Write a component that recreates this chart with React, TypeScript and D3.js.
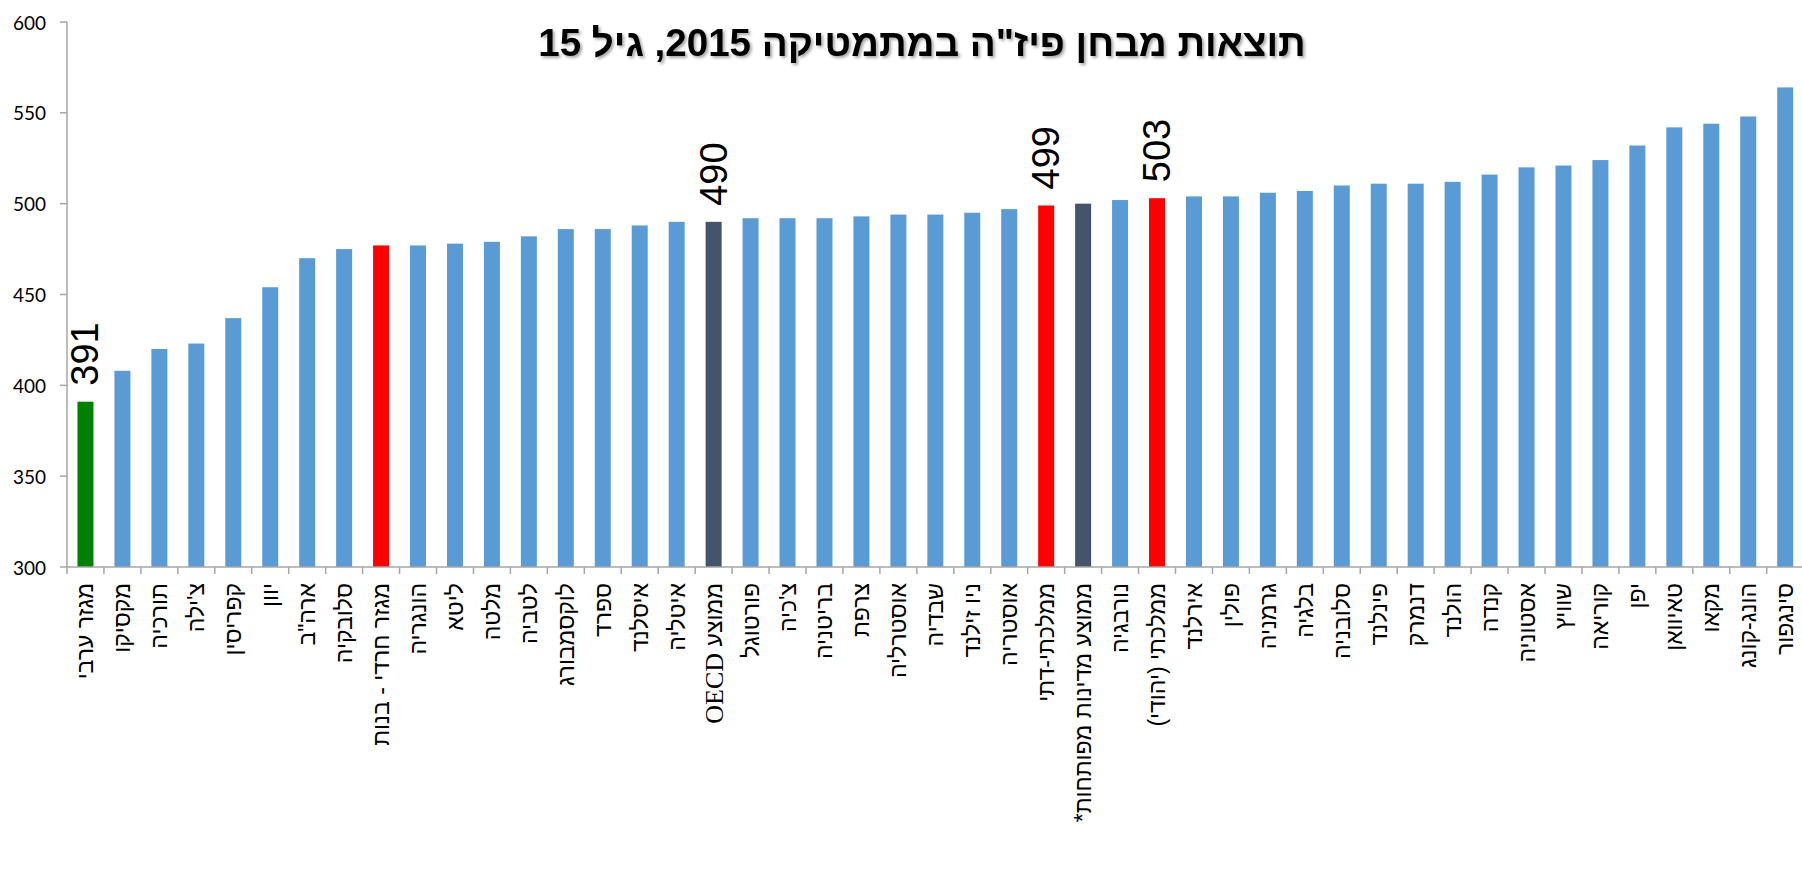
import React from "react";
import * as d3 from "d3";

const titleText = 'תוצאות מבחן פיז"ה במתמטיקה 2015, גיל 15';

const categories = [
  "מגזר ערבי", "מקסיקו", "תורכיה", "צ'ילה", "קפריסין", "יוון", 'ארה"ב', "סלובקיה",
  "מגזר חרדי - בנות", "הונגריה", "ליטא", "מלטה", "לטביה", "לוקסמבורג", "ספרד", "איסלנד",
  "איטליה", "ממוצע OECD", "פורטוגל", "צ'כיה", "בריטניה", "צרפת", "אוסטרליה", "שבדיה",
  "ניו זילנד", "אוסטריה", "ממלכתי-דתי", "ממוצע מדינות מפותחות*", "נורבגיה", "ממלכתי (יהודי)",
  "אירלנד", "פולין", "גרמניה", "בלגיה", "סלובניה", "פינלנד", "דנמרק", "הולנד", "קנדה",
  "אסטוניה", "שוויץ", "קוריאה", "יפן", "טאיוואן", "מקאו", "הונג-קונג", "סינגפור",
];

const values = [
  391, 408, 420, 423, 437, 454, 470, 475, 477, 477, 478, 479, 482, 486, 486, 488,
  490, 490, 492, 492, 492, 493, 494, 494, 495, 497, 499, 500, 502, 503, 504, 504,
  506, 507, 510, 511, 511, 512, 516, 520, 521, 524, 532, 542, 544, 548, 564,
];

// group of each bar: c = country, a = arab sector, i = israeli sector, m = average
const groups = [
  "a", "c", "c", "c", "c", "c", "c", "c", "i", "c", "c", "c", "c", "c", "c", "c",
  "c", "m", "c", "c", "c", "c", "c", "c", "c", "c", "i", "m", "c", "i", "c", "c",
  "c", "c", "c", "c", "c", "c", "c", "c", "c", "c", "c", "c", "c", "c", "c",
];

const labeledCategories = ["מגזר ערבי", "ממוצע OECD", "ממלכתי-דתי", "ממלכתי (יהודי)"];

const yTicks = [300, 350, 400, 450, 500, 550, 600];

const groupColor: Record<string, string> = {
  c: "#5B9BD5",
  a: "#008000",
  i: "#FF0000",
  m: "#44546A",
};

const W = 1802;
const H = 873;
const left = 67;
const step = 36.95;
const top = 22;
const bottom = 567;

export default function App() {
  const x = d3
    .scaleBand<string>()
    .domain(categories)
    .range([left, left + step * categories.length])
    .paddingInner(0.567)
    .paddingOuter(0.567 / 2);
  const y = d3.scaleLinear().domain([300, 600]).range([bottom, top]);
  const bw = x.bandwidth();
  const st = x.step();
  const axisColor = "#A6A6A6";
  const hebFont = "'Liberation Sans', Arial, sans-serif";

  return (
    <svg
      width={W}
      height={H}
      style={{ position: "absolute", left: 0, top: 0, background: "#fff" }}
    >
      <defs>
        <filter id="shadow" x="-5%" y="-30%" width="110%" height="160%">
          <feDropShadow dx="2" dy="2" stdDeviation="1.5" floodColor="#000" floodOpacity="0.35" />
        </filter>
      </defs>
      <text
        x={922}
        y={56}
        textAnchor="middle"
        direction="rtl"
        fontFamily={hebFont}
        fontWeight="bold"
        fontSize={38.5}
        fill="#000"
        filter="url(#shadow)"
      >
        {titleText}
      </text>

      {/* y axis */}
      <line x1={left} x2={left} y1={y(600)} y2={y(300)} stroke={axisColor} strokeWidth={1.5} />
      {yTicks.map((t) => (
        <g key={t}>
          <line x1={left - 7} x2={left} y1={y(t)} y2={y(t)} stroke={axisColor} strokeWidth={1.5} />
          <text
            x={left - 21}
            y={y(t)}
            textAnchor="end"
            dominantBaseline="central"
            fontFamily="Lato, 'Open Sans', sans-serif"
            fontSize={19}
            fill="#000"
          >
            {t}
          </text>
        </g>
      ))}

      {/* bars */}
      {categories.map((c, i) => (
        <rect
          key={c}
          x={x(c)}
          y={y(values[i])}
          width={bw}
          height={y(300) - y(values[i])}
          fill={groupColor[groups[i]]}
        />
      ))}

      {/* x axis */}
      <line x1={left} x2={W} y1={bottom} y2={bottom} stroke={axisColor} strokeWidth={1.5} />
      {d3.range(categories.length + 1).map((k) => (
        <line
          key={k}
          x1={left + k * st}
          x2={left + k * st}
          y1={bottom}
          y2={bottom + 7}
          stroke={axisColor}
          strokeWidth={1.5}
        />
      ))}

      {/* category labels */}
      {categories.map((c) => {
        const cx = (x(c) as number) + bw / 2;
        const ty = 583;
        const parts = c.split("OECD");
        return (
          <text
            key={c}
            transform={`translate(${cx},${ty}) rotate(-90)`}
            direction="rtl"
            textAnchor="start"
            dominantBaseline="central"
            fontFamily={hebFont}
            fontSize={23}
            fill="#000"
          >
            {parts.length > 1 ? (
              <>
                <tspan>{parts[0]}</tspan>
                <tspan fontFamily="'Liberation Serif', 'Times New Roman', serif" fontSize={26}>
                  OECD
                </tspan>
                <tspan>{parts[1]}</tspan>
              </>
            ) : (
              c
            )}
          </text>
        );
      })}

      {/* value labels */}
      {categories.map((c, i) =>
        labeledCategories.includes(c) ? (
          <text
            key={"v" + c}
            transform={`translate(${(x(c) as number) + bw / 2},${y(values[i]) - 16}) rotate(-90)`}
            textAnchor="start"
            dominantBaseline="central"
            fontFamily="'Liberation Sans', Arial, sans-serif"
            fontSize={38}
            fill="#000"
          >
            {values[i]}
          </text>
        ) : null
      )}
    </svg>
  );
}
